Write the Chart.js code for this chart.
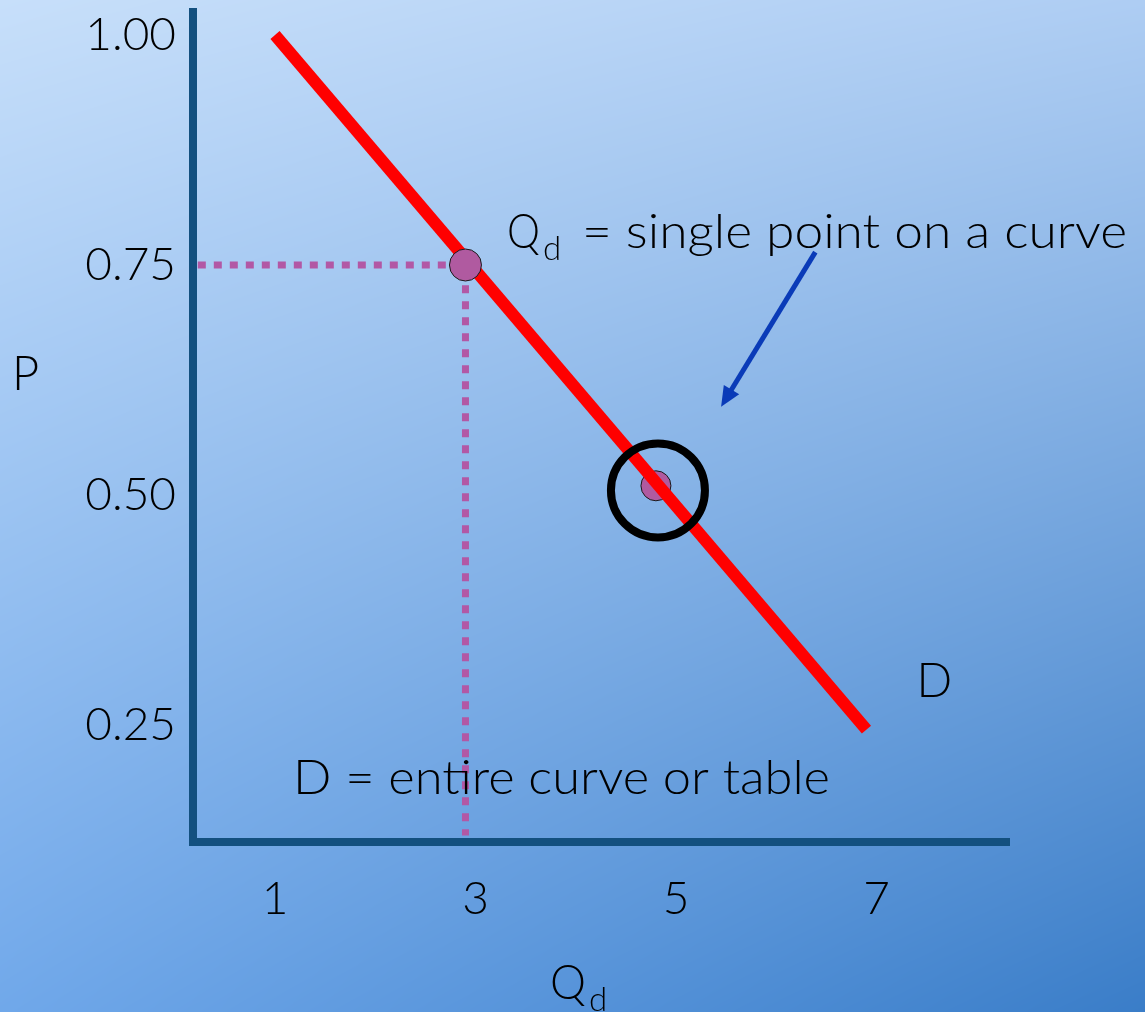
<!DOCTYPE html>
<html>
<head>
<meta charset="utf-8">
<style>
  html, body { margin: 0; padding: 0; background: #9cc3f0; }
  #wrap { width: 1145px; height: 1012px; position: relative; }
  canvas { display: block; }
</style>
<script src="https://cdn.jsdelivr.net/npm/chart.js@4.4.1/dist/chart.umd.min.js"></script>
</head>
<body>
<div id="wrap"><canvas id="demand" width="1145" height="1012"></canvas></div>
<script>
// Tick values for the two axes
const quantityTicks = [1, 3, 5, 7];
const priceTicks = [0.25, 0.50, 0.75, 1.00];

// Demand curve D (quantity, price)
const demandQ = [1.0, 6.9];
const demandP = [1.00, 0.245];

// Highlighted points on the curve
const pointQ = [2.9, 4.8];
const pointP = [0.75, 0.51];

// Ring drawn round the second point
const ringQ = [4.82];
const ringP = [0.505];

// Dotted guide from the price axis to the first point and down to the quantity axis
const guideQ = [0.23, 2.9, 2.9];
const guideP = [0.75, 0.75, 0.13];

// Arrow pointing from the caption toward the ringed point
const arrowQ = [6.39, 5.45];
const arrowP = [0.764, 0.596];

// Visible ranges of the axes
const qRange = [0.182, 8.322];
const pRange = [0.1228, 1.025];

const FONT = 'Lato, "Open Sans", "DejaVu Sans", sans-serif';

const xy = (xs, ys) => xs.map((x, i) => ({ x: x, y: ys[i] }));

// Soft blue panel behind the plot: bilinear blend of four corner colours
const backdrop = {
  id: 'backdrop',
  beforeDraw(chart) {
    const { ctx, width, height } = chart;
    if (!this._img) {
      const off = document.createElement('canvas');
      off.width = width; off.height = height;
      const octx = off.getContext('2d');
      const img = octx.createImageData(width, height);
      const tl = [199, 223, 250], tr = [174, 205, 243];
      const bl = [112, 168, 234], br = [58, 125, 200];
      for (let j = 0; j < height; j++) {
        const v = j / (height - 1);
        for (let i = 0; i < width; i++) {
          const u = i / (width - 1);
          const k = (j * width + i) * 4;
          for (let c = 0; c < 3; c++) {
            const top = tl[c] + (tr[c] - tl[c]) * u;
            const bot = bl[c] + (br[c] - bl[c]) * u;
            img.data[k + c] = top + (bot - top) * v;
          }
          img.data[k + 3] = 255;
        }
      }
      octx.putImageData(img, 0, 0);
      this._img = off;
    }
    ctx.drawImage(this._img, 0, 0);
  }
};

// Draws text squeezed horizontally to a given width
function fitText(ctx, text, x, y, w) {
  const m = ctx.measureText(text).width;
  ctx.save();
  ctx.translate(x, y);
  ctx.scale(w / m, 1);
  ctx.fillText(text, 0, 0);
  ctx.restore();
}

// Captions, axis titles and the arrow
const notes = {
  id: 'notes',
  afterDraw(chart) {
    const { ctx } = chart;
    const sx = chart.scales.x, sy = chart.scales.y;
    ctx.save();
    ctx.textBaseline = 'alphabetic';
    ctx.textAlign = 'left';

    // arrow
    const x0 = sx.getPixelForValue(arrowQ[0]), y0 = sy.getPixelForValue(arrowP[0]);
    const x1 = sx.getPixelForValue(arrowQ[1]), y1 = sy.getPixelForValue(arrowP[1]);
    const ang = Math.atan2(y1 - y0, x1 - x0);
    const head = 20, half = 9;
    ctx.strokeStyle = '#0a3bb8';
    ctx.fillStyle = '#0a3bb8';
    ctx.lineWidth = 5;
    ctx.beginPath();
    ctx.moveTo(x0, y0);
    ctx.lineTo(x1 - Math.cos(ang) * head * 0.8, y1 - Math.sin(ang) * head * 0.8);
    ctx.stroke();
    ctx.beginPath();
    ctx.moveTo(x1, y1);
    ctx.lineTo(x1 - Math.cos(ang) * head - Math.sin(ang) * half, y1 - Math.sin(ang) * head + Math.cos(ang) * half);
    ctx.lineTo(x1 - Math.cos(ang) * head + Math.sin(ang) * half, y1 - Math.sin(ang) * head - Math.cos(ang) * half);
    ctx.closePath();
    ctx.fill();

    ctx.fillStyle = '#000';
    const big = '300 47px ' + FONT;
    const sub = '300 33px ' + FONT;

    // caption for the ringed point
    ctx.font = big;
    fitText(ctx, 'Q', 507, 248, 33);
    ctx.font = sub;
    ctx.fillText('d', 543, 260);
    ctx.font = big;
    fitText(ctx, '= single point on a curve', 582, 248, 545);

    // caption for the whole curve
    fitText(ctx, 'D = entire curve or table', 293, 794, 537);

    // curve label
    const dx = sx.getPixelForValue(demandQ[1]);
    ctx.fillText('D', dx + 50, 697);

    // axis titles
    ctx.fillText('P', 12, 390);
    fitText(ctx, 'Q', 550, 999, 36);
    ctx.font = sub;
    ctx.fillText('d', 589, 1011);
    ctx.restore();
  }
};

// Keep the plot box fixed: no extra room reserved for edge tick labels
function fixBox(s, size) {
  if (s.isHorizontal()) s.height = size; else s.width = size;
  s.paddingTop = 0; s.paddingBottom = 0; s.paddingLeft = 0; s.paddingRight = 0;
}

new Chart(document.getElementById('demand'), {
  type: 'line',
  data: {
    datasets: [
      {
        data: xy(guideQ, guideP),
        borderColor: 'rgb(178,88,165)',
        borderWidth: 7,
        borderDash: [8, 8],
        borderCapStyle: 'butt',
        pointRadius: 0,
        order: 5
      },
      {
        data: xy(pointQ.slice(1), pointP.slice(1)),
        showLine: false,
        pointRadius: 15,
        pointBackgroundColor: 'rgb(176,90,160)',
        pointBorderColor: '#1a1a1a',
        pointBorderWidth: 1,
        order: 4
      },
      {
        data: xy(demandQ, demandP),
        borderColor: '#ff0000',
        borderWidth: 12,
        borderCapStyle: 'butt',
        pointRadius: 0,
        order: 3
      },
      {
        data: xy(pointQ.slice(0, 1), pointP.slice(0, 1)),
        showLine: false,
        pointRadius: 16,
        pointBackgroundColor: 'rgb(176,90,160)',
        pointBorderColor: '#1a1a1a',
        pointBorderWidth: 1,
        order: 2
      },
      {
        data: xy(ringQ, ringP),
        showLine: false,
        pointRadius: 47,
        pointBackgroundColor: 'rgba(0,0,0,0)',
        pointBorderColor: '#000',
        pointBorderWidth: 8,
        order: 1
      }
    ]
  },
  options: {
    responsive: false,
    devicePixelRatio: 1,
    animation: false,
    events: [],
    layout: { autoPadding: false, padding: { top: 12, right: 136, left: 0, bottom: 0 } },
    plugins: { legend: { display: false }, tooltip: { enabled: false } },
    scales: {
      x: {
        type: 'linear',
        min: qRange[0],
        max: qRange[1],
        afterBuildTicks: s => { s.ticks = quantityTicks.map(v => ({ value: v })); },
        afterFit: s => fixBox(s, 170),
        grid: { display: false, drawTicks: false },
        border: { display: true, color: '#13507f', width: 8 },
        ticks: {
          color: '#000',
          padding: 30,
          font: { family: FONT, size: 46, weight: '300' },
          callback: v => String(v),
          maxRotation: 0,
          autoSkip: false
        }
      },
      y: {
        type: 'linear',
        min: pRange[0],
        max: pRange[1],
        afterBuildTicks: s => { s.ticks = priceTicks.map(v => ({ value: v })); },
        afterFit: s => fixBox(s, 193),
        grid: { display: false, drawTicks: false },
        border: { display: true, color: '#13507f', width: 8 },
        ticks: {
          color: '#000',
          padding: 17,
          font: { family: FONT, size: 46, weight: '300' },
          callback: v => Number(v).toFixed(2),
          autoSkip: false
        }
      }
    }
  },
  plugins: [backdrop, notes]
});
</script>
</body>
</html>
